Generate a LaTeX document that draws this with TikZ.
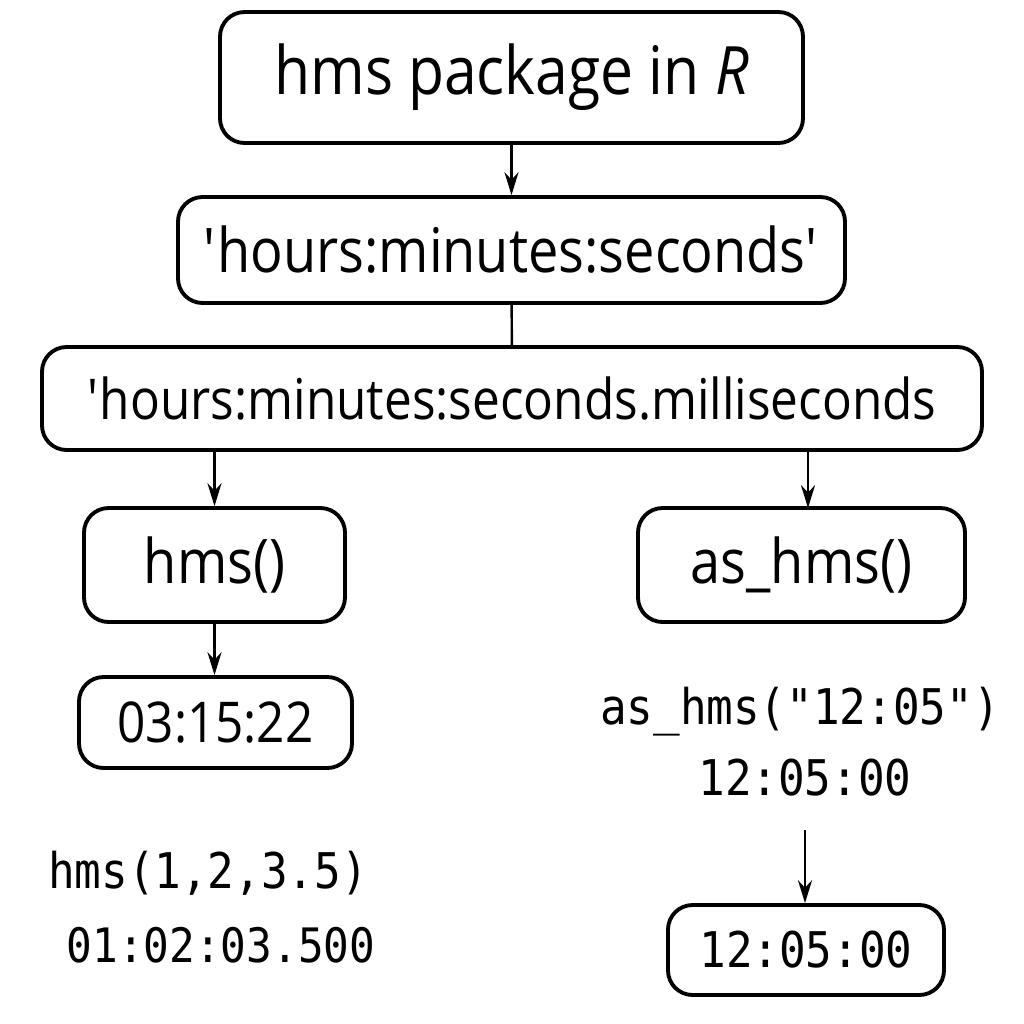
\documentclass[tikz,border=0pt]{standalone}
\usepackage{fontspec}
\setmainfont{Open Sans}[FakeStretch = 0.88]
\newfontfamily\codefont{DejaVu Sans Mono}[FakeStretch = 0.9]
\usetikzlibrary{arrows.meta}

\begin{document}
\begin{tikzpicture}[> = {Stealth[length = 6.5pt, width = 4pt]},
	box/.style = {draw, line width = 1.1pt, rounded corners = 7pt, align = center},
	link/.style = {line width = 0.7pt}]

	% Frame

	\useasboundingbox (0, 0) rectangle (10.24, -10.24);

	% Boxes

	\node [box, minimum width = 5.83cm, minimum height = 1.31cm, font = \fontsize{19}{22}\selectfont] (title) at (5.115, -0.775) {hms package in \textit{R}};
	\node [box, minimum width = 6.67cm, minimum height = 1.06cm, font = \fontsize{17.5}{20}\selectfont] (fmt) at (5.115, -2.50) {\textquotesingle hours:minutes:seconds\textquotesingle};
	\node [box, minimum width = 9.40cm, minimum height = 1.03cm, font = \fontsize{16}{19}\selectfont] (fmtms) at (5.12, -3.985) {\textquotesingle hours:minutes:seconds.milliseconds};
	\node [box, minimum width = 2.61cm, minimum height = 1.14cm, font = \fontsize{17.5}{20}\selectfont] (hms) at (2.145, -5.65) {hms()};
	\node [box, minimum width = 3.27cm, minimum height = 1.14cm, font = \fontsize{17.5}{20}\selectfont] (ashms) at (8.015, -5.65) {as\_hms()};
	\node [box, minimum width = 2.73cm, minimum height = 0.91cm, font = \fontsize{16}{19}\selectfont] (res1) at (2.155, -7.225) {03:15:22};
	\node [box, minimum width = 2.76cm, minimum height = 0.90cm, font = \codefont\fontsize{14}{16}\selectfont] (res2) at (8.06, -9.50) {12:05:00};

	% Code lines

	\node [font = \codefont\fontsize{14}{16}\selectfont] (call2) at (8.00, -7.12) {as\_hms("12:05")};
	\node [font = \codefont\fontsize{14}{16}\selectfont] (out2) at (8.05, -7.78) {12:05:00};
	\node [font = \codefont\fontsize{14}{16}\selectfont] (call1) at (2.08, -8.73) {hms(1,2,3.5)};
	\node [font = \codefont\fontsize{13.5}{16}\selectfont] (out1) at (2.21, -9.45) {01:02:03.500};

	% Connectors

	\draw [link, ->] (title) -- (fmt);
	\draw [link] (fmt) -- (fmtms);
	\draw [link, ->] (fmtms.south -| hms.north) -- (hms);
	\draw [link, ->] (fmtms.south -| 8.08, 0) -- (8.08, -5.08);
	\draw [link, ->] (hms) -- (res1.north -| hms.south);
	\draw [link, ->, shorten < = 6pt] (out2) -- (res2.north -| out2.south);

\end{tikzpicture}
\end{document}
